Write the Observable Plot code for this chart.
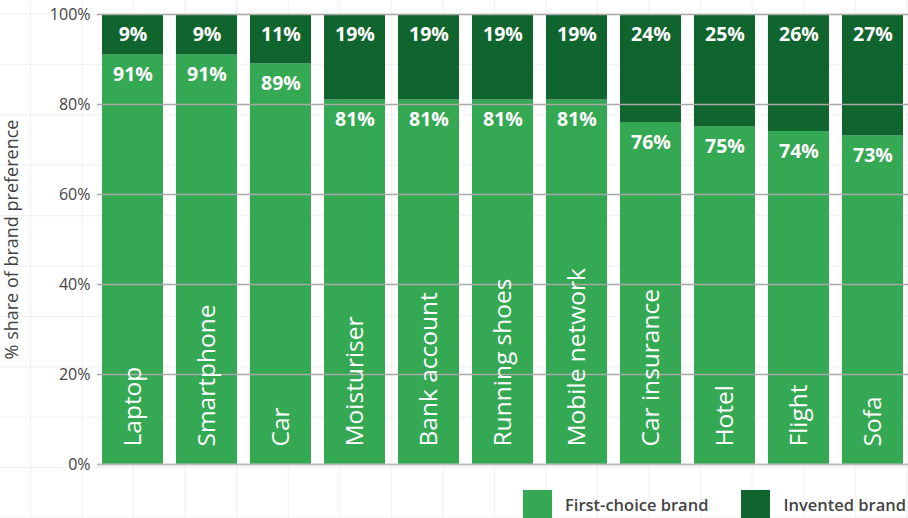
<!DOCTYPE html>
<html>
<head>
<meta charset="utf-8">
<script src="https://cdn.jsdelivr.net/npm/d3@7"></script>
<script src="https://cdn.jsdelivr.net/npm/@observablehq/plot@0.6"></script>
<style>
  html, body { margin: 0; padding: 0; }
  body {
    width: 908px; height: 518px; overflow: hidden;
    font-family: "Open Sans", sans-serif;
    background-color: #fff;
    background-image:
      linear-gradient(to right, #efefef 1px, transparent 1px),
      linear-gradient(to bottom, #efefef 1px, transparent 1px);
    background-size: 51.56px 50.4px;
    background-position: 30px 13.6px;
  }
  #chart { position: absolute; left: 0; top: 0; }
  #legend { position: absolute; top: 490px; left: 523px; display: flex; align-items: center; font-size: 16.5px; font-weight: 600; color: #444; }
  .sw { width: 29px; height: 28px; display: inline-block; margin-right: 13px; }
  .item { display: flex; align-items: center; }
</style>
</head>
<body>
<div id="chart"></div>
<div id="legend"></div>
<script>
const categories = ["Laptop", "Smartphone", "Car", "Moisturiser", "Bank account", "Running shoes", "Mobile network", "Car insurance", "Hotel", "Flight", "Sofa"];
const firstChoice = [91, 91, 89, 81, 81, 81, 81, 76, 75, 74, 73];
const invented = [9, 9, 11, 19, 19, 19, 19, 24, 25, 26, 27];
const series = ["First-choice brand", "Invented brand"];
const colors = ["#34a853", "#10652e"];
const yTicks = [0, 20, 40, 60, 80, 100];

const rows = [];
categories.forEach((c, i) => {
  rows.push({category: c, series: series[0], value: firstChoice[i]});
  rows.push({category: c, series: series[1], value: invented[i]});
});
const firstRows = categories.map((c, i) => ({category: c, value: firstChoice[i], top: firstChoice[i]}));
const invRows = categories.map((c, i) => ({category: c, value: invented[i], top: firstChoice[i] + invented[i]}));

const plot = Plot.plot({
  width: 908,
  height: 480,
  marginLeft: 97,
  marginRight: 0,
  marginTop: 14,
  marginBottom: 16,
  style: {background: "transparent", fontFamily: "Open Sans, sans-serif"},
  x: {domain: categories, paddingInner: 0.18, paddingOuter: 0.035, axis: null},
  y: {domain: [0, 100]},
  color: {domain: series, range: colors},
  marks: [
    Plot.barY(rows, Plot.stackY({x: "category", y: "value", fill: "series", order: series})),
    Plot.gridY(yTicks.slice(1), {stroke: "#a8a8a8", strokeOpacity: 1, strokeWidth: 1.3}),
    Plot.ruleY([0], {stroke: "#bdbdbd", strokeWidth: 2}),
    Plot.axisY(yTicks, {tickSize: 0, tickPadding: 7, tickFormat: d => d + "%", fontSize: 16, fill: "#444",
      label: "% share of brand preference", labelAnchor: "center", labelArrow: "none", labelOffset: 92}),
    Plot.text(firstRows, {x: "category", y: "top", text: d => d.value + "%", dy: 20, fill: "white", fontWeight: "bold", fontSize: 19.5}),
    Plot.text(invRows, {x: "category", y: "top", text: d => d.value + "%", dy: 20, fill: "white", fontWeight: "bold", fontSize: 19.5}),
    Plot.text(categories, {x: d => d, y: 0, text: d => d, rotate: -90, textAnchor: "start", lineAnchor: "middle", dy: -18, fill: "white", fontSize: 24.5})
  ]
});
document.getElementById("chart").appendChild(plot);
plot.querySelectorAll("text").forEach(t => {
  if (t.textContent === "% share of brand preference") { t.style.fontSize = "18px"; t.setAttribute("fill", "#444"); }
});

const legend = document.getElementById("legend");
series.forEach((s, i) => {
  const it = document.createElement("div");
  it.className = "item";
  it.style.marginRight = i === 0 ? "33px" : "0";
  const sw = document.createElement("span");
  sw.className = "sw"; sw.style.background = colors[i];
  const tx = document.createElement("span");
  tx.textContent = s;
  it.appendChild(sw); it.appendChild(tx);
  legend.appendChild(it);
});
</script>
</body>
</html>
